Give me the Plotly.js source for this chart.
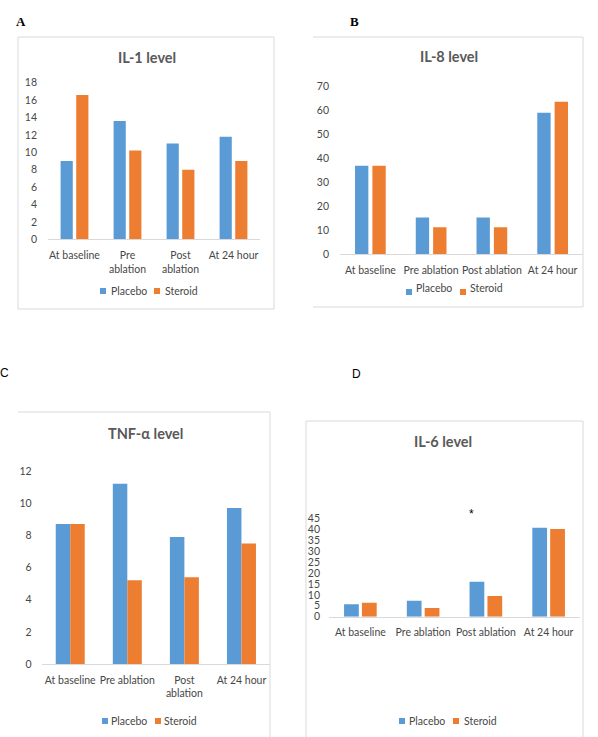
<!DOCTYPE html>
<html>
<head>
<meta charset="utf-8">
<script src="https://cdn.plot.ly/plotly-3.0.1.min.js"></script>
<style>html,body{margin:0;padding:0;background:#fff;}#chart{width:598px;height:737px;}</style>
</head>
<body>
<div id="chart"></div>
<script>
// ---- data ----
const categories = ['At baseline', 'Pre ablation', 'Post ablation', 'At 24 hour'];
const seriesNames = ['Placebo', 'Steroid'];

const il1Placebo = [9, 13.6, 11, 11.8];
const il1Steroid = [16.6, 10.2, 8, 9];
const il1Ticks = ['At baseline', 'Pre<br>ablation', 'Post<br>ablation', 'At 24 hour'];

const il8Placebo = [37, 15.4, 15.4, 59.1];
const il8Steroid = [37, 11.3, 11.3, 63.7];
const il8Ticks = ['At baseline', 'Pre ablation', 'Post ablation', 'At 24 hour'];

const tnfPlacebo = [8.7, 11.2, 7.9, 9.7];
const tnfSteroid = [8.7, 5.2, 5.4, 7.5];
const tnfTicks = ['At baseline', 'Pre ablation', 'Post<br>ablation', 'At 24 hour'];

const il6Placebo = [5.7, 7.3, 16, 40.7];
const il6Steroid = [6.4, 4, 9.5, 40.1];
const il6Ticks = ['At baseline', 'Pre ablation', 'Post ablation', 'At 24 hour'];

const titles = ['IL-1 level', 'IL-8 level', 'TNF-\u03b1 level', 'IL-6 level'];
const panelLetters = ['A', 'B', 'C', 'D'];

// ---- styling / layout helpers ----
const W = 598, H = 737;
const px = x => x / W;
const py = y => 1 - y / H;
const BLUE = '#5B9BD5', ORANGE = '#ED7D31', GREY = '#595959', TICK = '#474747', LINE = '#D9D9D9';
const FONT = 'Lato, "Liberation Sans", sans-serif';

const panels = [
  {pl: il1Placebo, st: il1Steroid, ticks: il1Ticks, x: [48, 260], y: [239.3, 82.7], max: 18, dtick: 2, bw: 0.23, gap: 0.065, ys: 10},
  {pl: il8Placebo, st: il8Steroid, ticks: il8Ticks, x: [340, 583], y: [254.3, 86.7], max: 70, dtick: 10, bw: 0.22, gap: 0.066, ys: 10},
  {pl: tnfPlacebo, st: tnfSteroid, ticks: tnfTicks, x: [41.7, 270], y: [664, 471], max: 12, dtick: 2, bw: 0.254, gap: 0, ys: 9},
  {pl: il6Placebo, st: il6Steroid, ticks: il6Ticks, x: [329, 580], y: [616.7, 518.3], max: 45, dtick: 5, bw: 0.235, gap: 0.05, ys: 8}
];

const traces = [];
const layout = {
  width: W, height: H,
  margin: {l: 0, r: 0, t: 0, b: 0},
  paper_bgcolor: '#fff', plot_bgcolor: 'rgba(0,0,0,0)',
  showlegend: false,
  barmode: 'group',
  font: {family: FONT, color: GREY, size: 10},
  shapes: [], annotations: []
};

panels.forEach((p, i) => {
  const n = i === 0 ? '' : String(i + 1);
  const xa = 'x' + n, ya = 'y' + n;
  traces.push({type: 'bar', x: categories, y: p.pl, name: seriesNames[0], xaxis: xa, yaxis: ya,
    marker: {color: BLUE}, width: p.bw, offset: -(p.bw + p.gap / 2), hoverinfo: 'skip'});
  traces.push({type: 'bar', x: categories, y: p.st, name: seriesNames[1], xaxis: xa, yaxis: ya,
    marker: {color: ORANGE}, width: p.bw, offset: p.gap / 2, hoverinfo: 'skip'});
  layout['xaxis' + n] = {
    domain: [px(p.x[0]), px(p.x[1])], anchor: ya, type: 'category',
    range: [-0.5, 3.5], tickvals: categories, ticktext: p.ticks,
    showline: true, linecolor: LINE, linewidth: 1, ticks: '', showgrid: false, zeroline: false,
    ticklabelstandoff: 6,
    tickfont: {family: FONT, size: 10.5, color: TICK}, fixedrange: true
  };
  layout['yaxis' + n] = {
    domain: [py(p.y[0]), py(p.y[1])], anchor: xa, range: [0, p.max], dtick: p.dtick, tick0: 0,
    showline: false, showgrid: false, zeroline: false, ticks: '',
    ticklabelstandoff: p.ys,
    tickfont: {family: FONT, size: 10.5, color: TICK}, fixedrange: true
  };
});

// chart frames
const sh = layout.shapes;
const lineSeg = (x0, y0, x1, y1) => sh.push({type: 'line', xref: 'paper', yref: 'paper',
  x0: px(x0), y0: py(y0), x1: px(x1), y1: py(y1), line: {color: LINE, width: 1}});
// A
lineSeg(18, 37, 274, 37); lineSeg(274, 37, 274, 309); lineSeg(274, 309, 18, 309); lineSeg(18, 309, 18, 37);
// B
lineSeg(313, 37, 583, 37); lineSeg(583, 37, 583, 307); lineSeg(583, 307, 313, 307);
// C
lineSeg(18, 412, 270, 412); lineSeg(270, 412, 270, 737);
// D
lineSeg(306, 421, 583, 421); lineSeg(583, 421, 583, 737); lineSeg(306, 421, 306, 737);

// titles
const ann = layout.annotations;
const titlePos = [[147, 58], [449, 57], [145, 433], [443, 441]];
titles.forEach((t, i) => ann.push({xref: 'paper', yref: 'paper', x: px(titlePos[i][0]), y: py(titlePos[i][1]),
  text: '<b>' + t + '</b>', showarrow: false, xanchor: 'center', yanchor: 'middle',
  font: {family: FONT, size: 14.5, color: GREY}}));

// panel letters
const letterPos = [[21, 22, 'serif'], [354, 22, 'serif'], [4, 373, 'sans'], [356, 374, 'sans']];
panelLetters.forEach((l, i) => {
  const serif = letterPos[i][2] === 'serif';
  ann.push({xref: 'paper', yref: 'paper', x: px(letterPos[i][0]), y: py(letterPos[i][1]),
    text: serif ? '<b>' + l + '</b>' : l, showarrow: false, xanchor: 'center', yanchor: 'middle',
    font: {family: serif ? '"Liberation Serif", serif' : '"Liberation Sans", sans-serif', size: serif ? 13 : 12, color: '#000'}});
});

// significance marker
ann.push({xref: 'paper', yref: 'paper', x: px(471), y: py(514), text: '*', showarrow: false,
  xanchor: 'center', yanchor: 'middle', font: {family: '"Liberation Sans", sans-serif', size: 12, color: '#000'}});

// legends (square + text)
const legends = [
  {sq: [[100, 288], [154, 288]], tx: [[109, 291], [163, 291]]},
  {sq: [[406, 289], [460, 289]], tx: [[414, 288], [468, 288]]},
  {sq: [[102, 718], [155, 718]], tx: [[109, 720.5], [162, 720.5]]},
  {sq: [[399, 718], [453, 718]], tx: [[407, 721], [462, 721]]}
];
legends.forEach(lg => {
  [BLUE, ORANGE].forEach((c, k) => {
    sh.push({type: 'rect', xref: 'paper', yref: 'paper', x0: px(lg.sq[k][0]), x1: px(lg.sq[k][0] + 6),
      y0: py(lg.sq[k][1]), y1: py(lg.sq[k][1] + 6), fillcolor: c, line: {width: 0}});
    ann.push({xref: 'paper', yref: 'paper', x: px(lg.tx[k][0]), y: py(lg.tx[k][1]), text: seriesNames[k],
      showarrow: false, xanchor: 'left', yanchor: 'middle', font: {family: FONT, size: 10.5, color: TICK}});
  });
});

Plotly.newPlot('chart', traces, layout, {staticPlot: true, displayModeBar: false});
</script>
</body>
</html>
